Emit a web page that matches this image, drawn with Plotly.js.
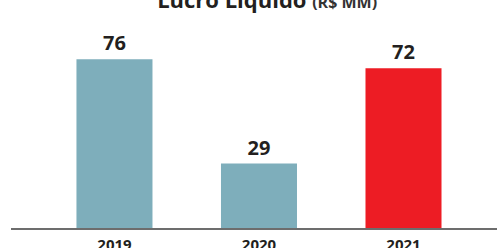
<!DOCTYPE html>
<html>
<head>
<meta charset="utf-8">
<script src="https://cdn.plot.ly/plotly-3.0.1.min.js"></script>
<style>html,body{margin:0;padding:0;background:#fff;}#chart{width:497px;height:248px;}</style>
</head>
<body>
<div id="chart"></div>
<script>
const categories = ['2019', '2020', '2021'];
const values = [76, 29, 72];
const barColors = ['#7eaebb', '#7eaebb', '#ed1c24'];
const labels = ['76', '29', '72'];

const trace = {
  type: 'bar',
  x: categories,
  y: values,
  marker: {color: barColors, line: {width: 0}},
  text: labels,
  textposition: 'outside',
  textfont: {family: 'Open Sans', size: 20, color: '#231f20', weight: 'bold'},
  cliponaxis: false,
  hoverinfo: 'skip'
};

const layout = {
  width: 497, height: 248,
  margin: {l: 11, r: 0, t: 0, b: 20},
  paper_bgcolor: '#ffffff', plot_bgcolor: '#ffffff',
  showlegend: false,
  bargap: 0.474,
  font: {family: 'Open Sans', color: '#231f20'},
  title: {
    text: "<b>Lucro Líquido</b> <span style='font-size:16px;color:#333'><b>(R$ MM)</b></span>",
    font: {family: 'Open Sans', size: 22, color: '#231f20'},
    x: 0.527, xanchor: 'center', xref: 'paper',
    y: 1.02, yanchor: 'middle', yref: 'container'
  },
  xaxis: {
    type: 'category',
    range: [-0.716, 2.647],
    showline: true, linecolor: '#6d6d6d', linewidth: 2,
    showgrid: false, zeroline: false, ticks: '',
    ticklabelstandoff: 2,
    tickfont: {family: 'Open Sans', size: 15, color: '#231f20', weight: 'bold'},
    fixedrange: true
  },
  yaxis: {
    range: [0, 102.7],
    visible: false, showgrid: false, zeroline: false,
    fixedrange: true
  }
};

Plotly.newPlot('chart', [trace], layout, {displayModeBar: false, staticPlot: true});
</script>
</body>
</html>
